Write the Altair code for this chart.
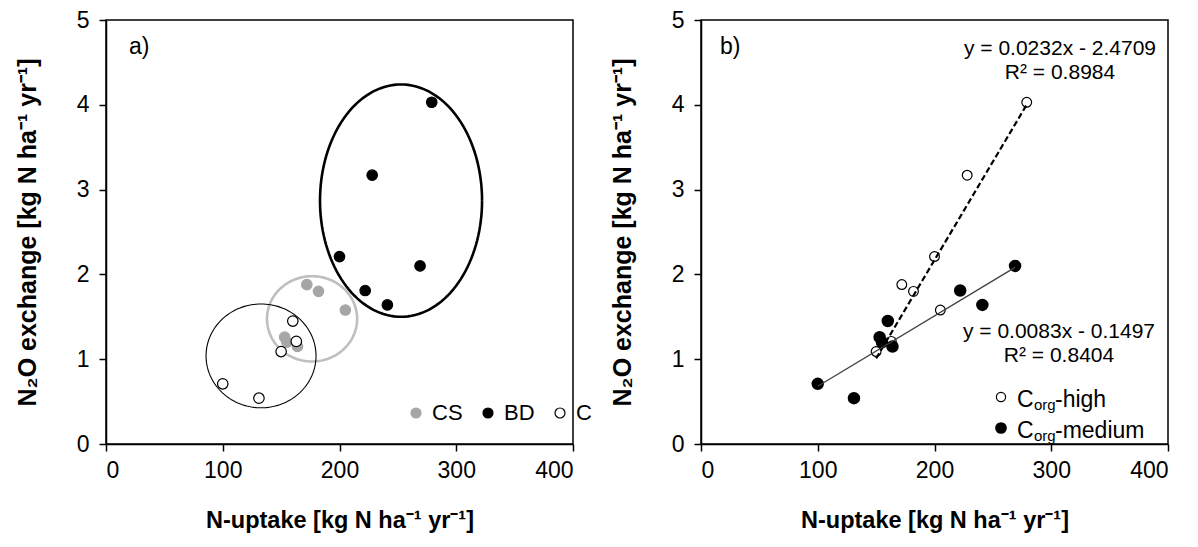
import altair as alt
import pandas as pd
import numpy as np

FONT = "Liberation Sans"

# ---------------- Panel a data ----------------
bd_x = [279, 228, 200, 269, 222, 241]
bd_y = [4.03, 3.17, 2.21, 2.10, 1.81, 1.64]
cs_x = [172, 182, 205, 153, 155, 164]
cs_y = [1.88, 1.80, 1.58, 1.26, 1.20, 1.15]
c_x = [160, 163, 150, 100, 131]
c_y = [1.45, 1.21, 1.09, 0.71, 0.54]
groups = ["CS", "BD", "C"]

# ellipses around groups (centre and radii in data units)
ell_group = ["BD", "CS", "C"]
ell_cx = [252.7, 176.5, 132.8]
ell_cy = [2.87, 1.476, 1.039]
ell_rx = [69.4, 38.6, 47.1]
ell_ry = [1.37, 0.503, 0.612]

# ---------------- Panel b data ----------------
high_x = [279, 228, 200, 172, 182, 205, 163, 150]
high_y = [4.03, 3.17, 2.21, 1.88, 1.80, 1.58, 1.21, 1.09]
med_x = [269, 222, 241, 153, 155, 164, 160, 100, 131]
med_y = [2.10, 1.81, 1.64, 1.26, 1.20, 1.15, 1.45, 0.71, 0.54]

reg_series = ["high", "medium"]
reg_slope = [0.0232, 0.0083]
reg_icept = [-2.4709, -0.1497]
eq_high = ["y = 0.0232x - 2.4709", "R² = 0.8984"]
eq_med = ["y = 0.0083x - 0.1497", "R² = 0.8404"]

x_ticks = [0, 100, 200, 300, 400]
y_ticks = [0, 1, 2, 3, 4, 5]
x_title = "N-uptake [kg N ha⁻¹ yr⁻¹]"
y_title = "N₂O exchange [kg N ha⁻¹ yr⁻¹]"

W, H = 467, 424

xs = alt.Scale(domain=[0, 400], nice=False)
ys = alt.Scale(domain=[0, 5], nice=False)
X = alt.X("uptake:Q", scale=xs, axis=alt.Axis(values=x_ticks, title=x_title))
Y = alt.Y("n2o:Q", scale=ys, axis=alt.Axis(values=y_ticks, title=y_title))

# ---------------- Panel a ----------------
df_a = pd.DataFrame({
    "uptake": cs_x + bd_x + c_x,
    "n2o": cs_y + bd_y + c_y,
    "group": ["CS"] * len(cs_x) + ["BD"] * len(bd_x) + ["C"] * len(c_x),
})

rows = []
theta = np.linspace(0, 2 * np.pi, 145)
for g, cx, cy, rx, ry in zip(ell_group, ell_cx, ell_cy, ell_rx, ell_ry):
    for i, t in enumerate(theta):
        rows.append({"group": g, "i": i,
                     "uptake": cx + rx * np.cos(t), "n2o": cy + ry * np.sin(t)})
df_ell = pd.DataFrame(rows)

ell_style = {"BD": ("#000000", 2.6), "CS": ("#bfbfbf", 2.6), "C": ("#000000", 1.1)}
ell_layers = []
for g in ell_group:
    col, sw = ell_style[g]
    ell_layers.append(
        alt.Chart(df_ell[df_ell.group == g]).mark_line(color=col, strokeWidth=sw)
        .encode(x=X, y=Y, order="i:Q")
    )

leg = alt.Legend(title=None, orient="none", legendX=299, legendY=382,
                 direction="horizontal", labelFont=FONT, labelFontSize=22,
                 labelColor="black", symbolSize=100, symbolStrokeWidth=1.2,
                 labelOffset=5, columnPadding=14, padding=0)
pts_a = alt.Chart(df_a).mark_point(shape="circle", filled=True, size=110, strokeWidth=1.2, opacity=1).encode(
    x=X, y=Y,
    fill=alt.Fill("group:N", scale=alt.Scale(domain=groups, range=["#a6a6a6", "#000000", "#ffffff"]), legend=leg),
    stroke=alt.Stroke("group:N", scale=alt.Scale(domain=groups, range=["#a6a6a6", "#000000", "#000000"]), legend=leg),
)

lab_a = alt.Chart(pd.DataFrame({"t": ["a)"]})).mark_text(
    font=FONT, fontSize=23, align="left", baseline="middle", color="black"
).encode(text="t:N", x=alt.value(23), y=alt.value(27))

panel_a = alt.layer(*ell_layers, pts_a, lab_a).properties(width=W, height=H)

# ---------------- Panel b ----------------
df_high = pd.DataFrame({"uptake": high_x, "n2o": high_y})
df_med = pd.DataFrame({"uptake": med_x, "n2o": med_y})

reg_rows = []
for s, m, b, xsr in zip(reg_series, reg_slope, reg_icept, [high_x, med_x]):
    for xv in (min(xsr), max(xsr)):
        reg_rows.append({"series": s, "uptake": xv, "n2o": m * xv + b})
df_reg = pd.DataFrame(reg_rows)

pts_high = alt.Chart(df_high).mark_point(shape="circle", filled=True, fill="white", stroke="black",
                                         strokeWidth=1.2, size=95, opacity=1).encode(x=X, y=Y)
pts_med = alt.Chart(df_med).mark_point(shape="circle", filled=True, fill="black", stroke="black",
                                       size=110, opacity=1).encode(x=X, y=Y)
line_high = alt.Chart(df_reg[df_reg.series == "high"]).mark_line(
    color="black", strokeWidth=2.2, strokeDash=[6, 3]).encode(x=X, y=Y)
line_med = alt.Chart(df_reg[df_reg.series == "medium"]).mark_line(
    color="#404040", strokeWidth=1.3).encode(x=X, y=Y)

def txt(lines, x, y0, dy, size=21, align="center"):
    out = []
    for k, s in enumerate(lines):
        out.append(alt.Chart(pd.DataFrame({"t": [s]})).mark_text(
            font=FONT, fontSize=size, align=align, baseline="middle", color="black"
        ).encode(text="t:N", x=alt.value(x), y=alt.value(y0 + k * dy)))
    return out

eq_layers = txt(eq_high, 359, 29, 24) + txt(eq_med, 358, 312, 24)

lab_b = alt.Chart(pd.DataFrame({"t": ["b)"]})).mark_text(
    font=FONT, fontSize=23, align="left", baseline="middle", color="black"
).encode(text="t:N", x=alt.value(19), y=alt.value(27))

# manual legend with subscript text
leg_labels = ["-high", "-medium"]
leg_sym_x, leg_rows_y = 300, [377, 408]
leg_layers = [
    alt.Chart(pd.DataFrame({"t": ["high"]})).mark_point(shape="circle", filled=True, fill="white",
        stroke="black", strokeWidth=1.2, size=85, opacity=1).encode(x=alt.value(leg_sym_x), y=alt.value(leg_rows_y[0])),
    alt.Chart(pd.DataFrame({"t": ["medium"]})).mark_point(shape="circle", filled=True, fill="black",
        stroke="black", size=95, opacity=1).encode(x=alt.value(leg_sym_x), y=alt.value(leg_rows_y[1])),
]
for lab, yy in zip(leg_labels, leg_rows_y):
    yy = yy + 3
    leg_layers.append(alt.Chart(pd.DataFrame({"t": ["C"]})).mark_text(
        font=FONT, fontSize=23, align="left", baseline="middle", color="black"
    ).encode(text="t:N", x=alt.value(316), y=alt.value(yy)))
    leg_layers.append(alt.Chart(pd.DataFrame({"t": ["org"]})).mark_text(
        font=FONT, fontSize=15, align="left", baseline="middle", color="black"
    ).encode(text="t:N", x=alt.value(333), y=alt.value(yy + 5)))
    leg_layers.append(alt.Chart(pd.DataFrame({"t": [lab]})).mark_text(
        font=FONT, fontSize=23, align="left", baseline="middle", color="black"
    ).encode(text="t:N", x=alt.value(354), y=alt.value(yy)))

panel_b = alt.layer(pts_high, pts_med, line_high, line_med, *eq_layers, lab_b, *leg_layers).properties(width=W, height=H)

chart = alt.hconcat(panel_a, panel_b, spacing=34).properties(
    padding={"left": 6, "top": 0, "right": 5, "bottom": 5}
).configure_view(stroke="black", strokeWidth=1.5).configure_axis(
    domainColor="black", tickColor="black", labelColor="black", titleColor="black",
    labelFont=FONT, titleFont=FONT, labelFontSize=23, titleFontSize=23.5,
    titleFontWeight="bold", grid=False, tickSize=7, domainWidth=1.5, tickWidth=1.5,
).configure_axisX(labelPadding=8, titlePadding=26).configure_axisY(
    labelPadding=10, titlePadding=36, titleFontSize=25)

chart.save("out.html", embed_options={"renderer": "svg", "actions": False})
